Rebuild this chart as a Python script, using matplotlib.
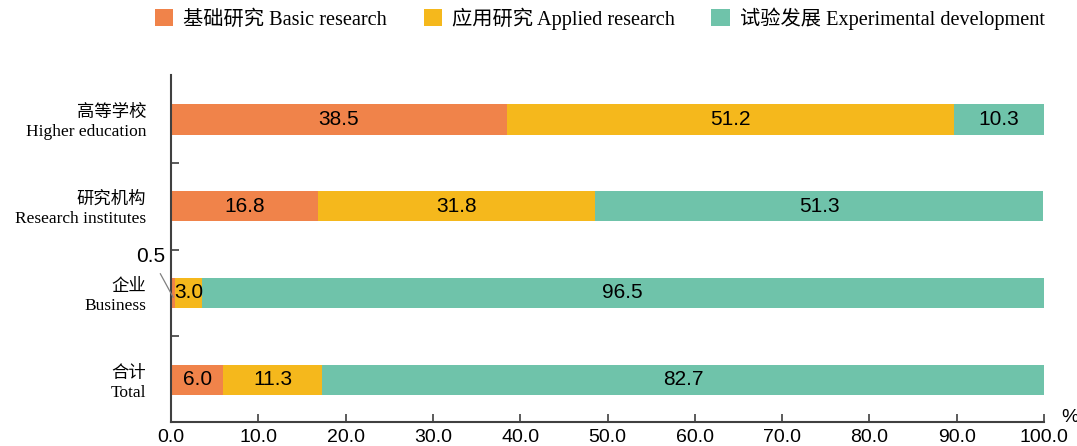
import matplotlib
matplotlib.use("Agg")
from matplotlib import pyplot as plt
import numpy as np

# data
cats_cn = ["高等学校", "研究机构", "企业", "合计"]
cats_en = ["Higher education", "Research institutes", "Business", "Total"]
basic = [38.5, 16.8, 0.5, 6.0]
applied = [51.2, 31.8, 3.0, 11.3]
experimental = [10.3, 51.3, 96.5, 82.7]
series_names = ["基础研究 Basic research", "应用研究 Applied research", "试验发展 Experimental development"]
colors = ["#F0834A", "#F5B81C", "#6FC3AA"]
x_ticks = np.arange(0, 101, 10)

serif = ["Liberation Serif", "Noto Sans CJK SC"]
sans = ["Liberation Sans", "DejaVu Sans"]
axis_col = "#404040"

fig = plt.figure(figsize=(10.77, 4.46), dpi=100)
ax = fig.add_axes([171 / 1077, 24 / 446, (1044 - 171) / 1077, (422 - 75) / 446])

ypos = np.arange(len(cats_cn))[::-1]
height = 0.356
left = np.zeros(len(cats_cn))
for vals, name, col in zip([basic, applied, experimental], series_names, colors):
    ax.barh(ypos, vals, left=left, height=height, color=col, label=name)
    for y, l, v in zip(ypos, left, vals):
        if v >= 2:
            ax.text(l + v / 2, y, f"{v:.1f}", ha="center", va="center",
                    fontsize=15, family=sans, color="black")
    left = left + np.array(vals)

# small value for business, labelled outside
bi = cats_en.index("Business")
ax.annotate(f"{basic[bi]:.1f}", xy=(basic[bi] / 2, ypos[bi] - 0.05),
            xytext=(-2.3, ypos[bi] + 0.42), ha="center", va="center",
            fontsize=15, family=sans, annotation_clip=False,
            arrowprops=dict(arrowstyle="-", color="#808080", lw=0.9, shrinkA=4, shrinkB=0))

ax.set_xlim(0, 100)
ax.set_ylim(-0.483, 3.506)
ax.set_xticks(x_ticks)
ax.set_xticklabels([f"{t:.1f}" for t in x_ticks], family=sans, fontsize=14)
ax.set_yticks(ypos)
ax.set_yticklabels([f"{c}\n{e}" for c, e in zip(cats_cn, cats_en)], family=serif,
                   fontsize=12.5, linespacing=1.25)
ax.set_yticks(ypos[1:] + 0.5, minor=True)
ax.tick_params(axis="y", which="major", length=0, pad=18)
ax.tick_params(axis="y", which="minor", length=6, direction="in", color=axis_col, width=1.2)
ax.tick_params(axis="x", direction="in", length=6, color=axis_col, width=1.2, pad=5)

for s in ["top", "right"]:
    ax.spines[s].set_visible(False)
for s in ["left", "bottom"]:
    ax.spines[s].set_color(axis_col)
    ax.spines[s].set_linewidth(1.5)

ax.text(102.0, -0.43, "%", fontsize=14, family=sans, ha="left", va="center")

fig.legend(loc="upper center", bbox_to_anchor=(0.557, 1.025), ncol=3, frameon=False,
           prop={"family": serif, "size": 14.6}, handlelength=0.9, handleheight=0.9,
           columnspacing=1.8, handletextpad=0.5)

fig.savefig("out.png", dpi=100)
